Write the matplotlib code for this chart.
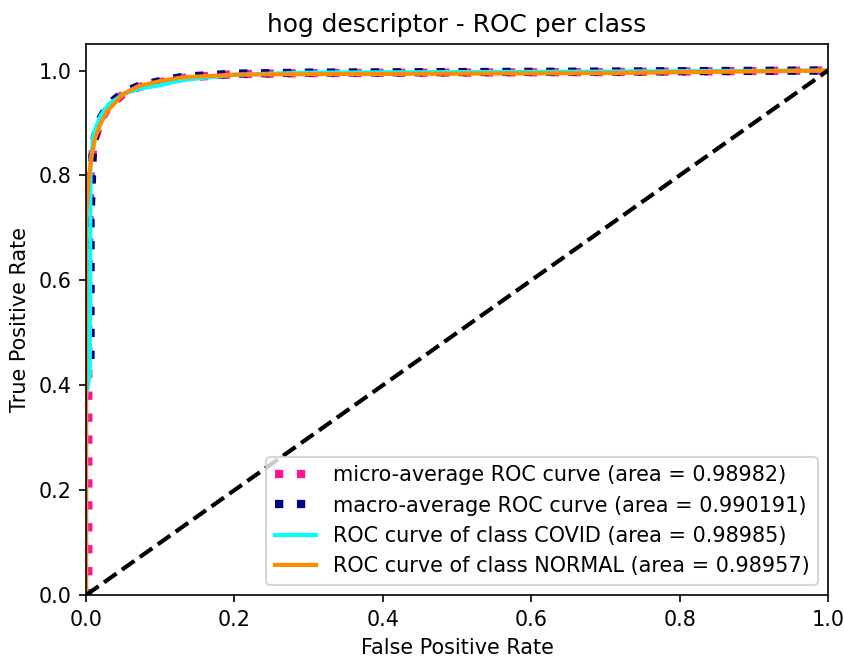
import matplotlib
matplotlib.use("Agg")
import matplotlib.pyplot as plt

title = "hog descriptor - ROC per class"
micro_fpr = [0.0, 0.003, 0.003, 0.006, 0.01, 0.02, 0.03, 0.05, 0.07, 0.1, 0.13, 0.2, 0.3, 0.5, 0.7, 1.0]
micro_tpr = [0.0, 0.0, 0.6, 0.8, 0.86, 0.905, 0.93, 0.955, 0.968, 0.978, 0.986, 0.993, 0.995, 0.996, 0.997, 1.0]
macro_fpr = [0.006, 0.006, 0.009, 0.012, 0.02, 0.03, 0.05, 0.07, 0.1, 0.13, 0.2, 0.3, 0.5, 0.7, 1.0]
macro_tpr = [0.45, 0.72, 0.84, 0.875, 0.91, 0.935, 0.958, 0.97, 0.98, 0.988, 0.994, 0.996, 0.997, 0.998, 1.0]
covid_fpr = [0.0, 0.0, 0.005, 0.006, 0.01, 0.02, 0.03, 0.05, 0.07, 0.1, 0.13, 0.2, 0.3, 0.5, 0.7, 1.0]
covid_tpr = [0.0, 0.38, 0.42, 0.82, 0.88, 0.915, 0.935, 0.955, 0.965, 0.972, 0.982, 0.992, 0.996, 0.997, 0.998, 1.0]
normal_fpr = [0.0, 0.0, 0.004, 0.008, 0.012, 0.02, 0.03, 0.05, 0.07, 0.1, 0.13, 0.2, 0.3, 0.5, 0.7, 1.0]
normal_tpr = [0.0, 0.72, 0.8, 0.84, 0.87, 0.9, 0.925, 0.955, 0.97, 0.98, 0.987, 0.992, 0.993, 0.994, 0.995, 1.0]
areas = {"micro": "0.98982", "macro": "0.990191", "COVID": "0.98985", "NORMAL": "0.98957"}

DPI = 149
fig = plt.figure(figsize=(844 / DPI, 658 / DPI), dpi=DPI)
ax = fig.add_axes([0.102, 0.0957, 0.879, 0.837])
ax.plot(micro_fpr, micro_tpr, color="deeppink", linestyle=":", linewidth=4,
        label=f"micro-average ROC curve (area = {areas['micro']})")
ax.plot(macro_fpr, macro_tpr, color="navy", linestyle=":", linewidth=4,
        label=f"macro-average ROC curve (area = {areas['macro']})")
ax.plot(covid_fpr, covid_tpr, color="aqua", linewidth=2,
        label=f"ROC curve of class COVID (area = {areas['COVID']})")
ax.plot(normal_fpr, normal_tpr, color="darkorange", linewidth=2,
        label=f"ROC curve of class NORMAL (area = {areas['NORMAL']})")
ax.plot([0, 1], [0, 1], "k--", linewidth=2)
ax.set_xlim(0.0, 1.0)
ax.set_ylim(0.0, 1.05)
ax.set_xlabel("False Positive Rate")
ax.set_ylabel("True Positive Rate")
ax.set_title(title)
ax.legend(loc="lower right")
fig.savefig("out.png", dpi=DPI)
